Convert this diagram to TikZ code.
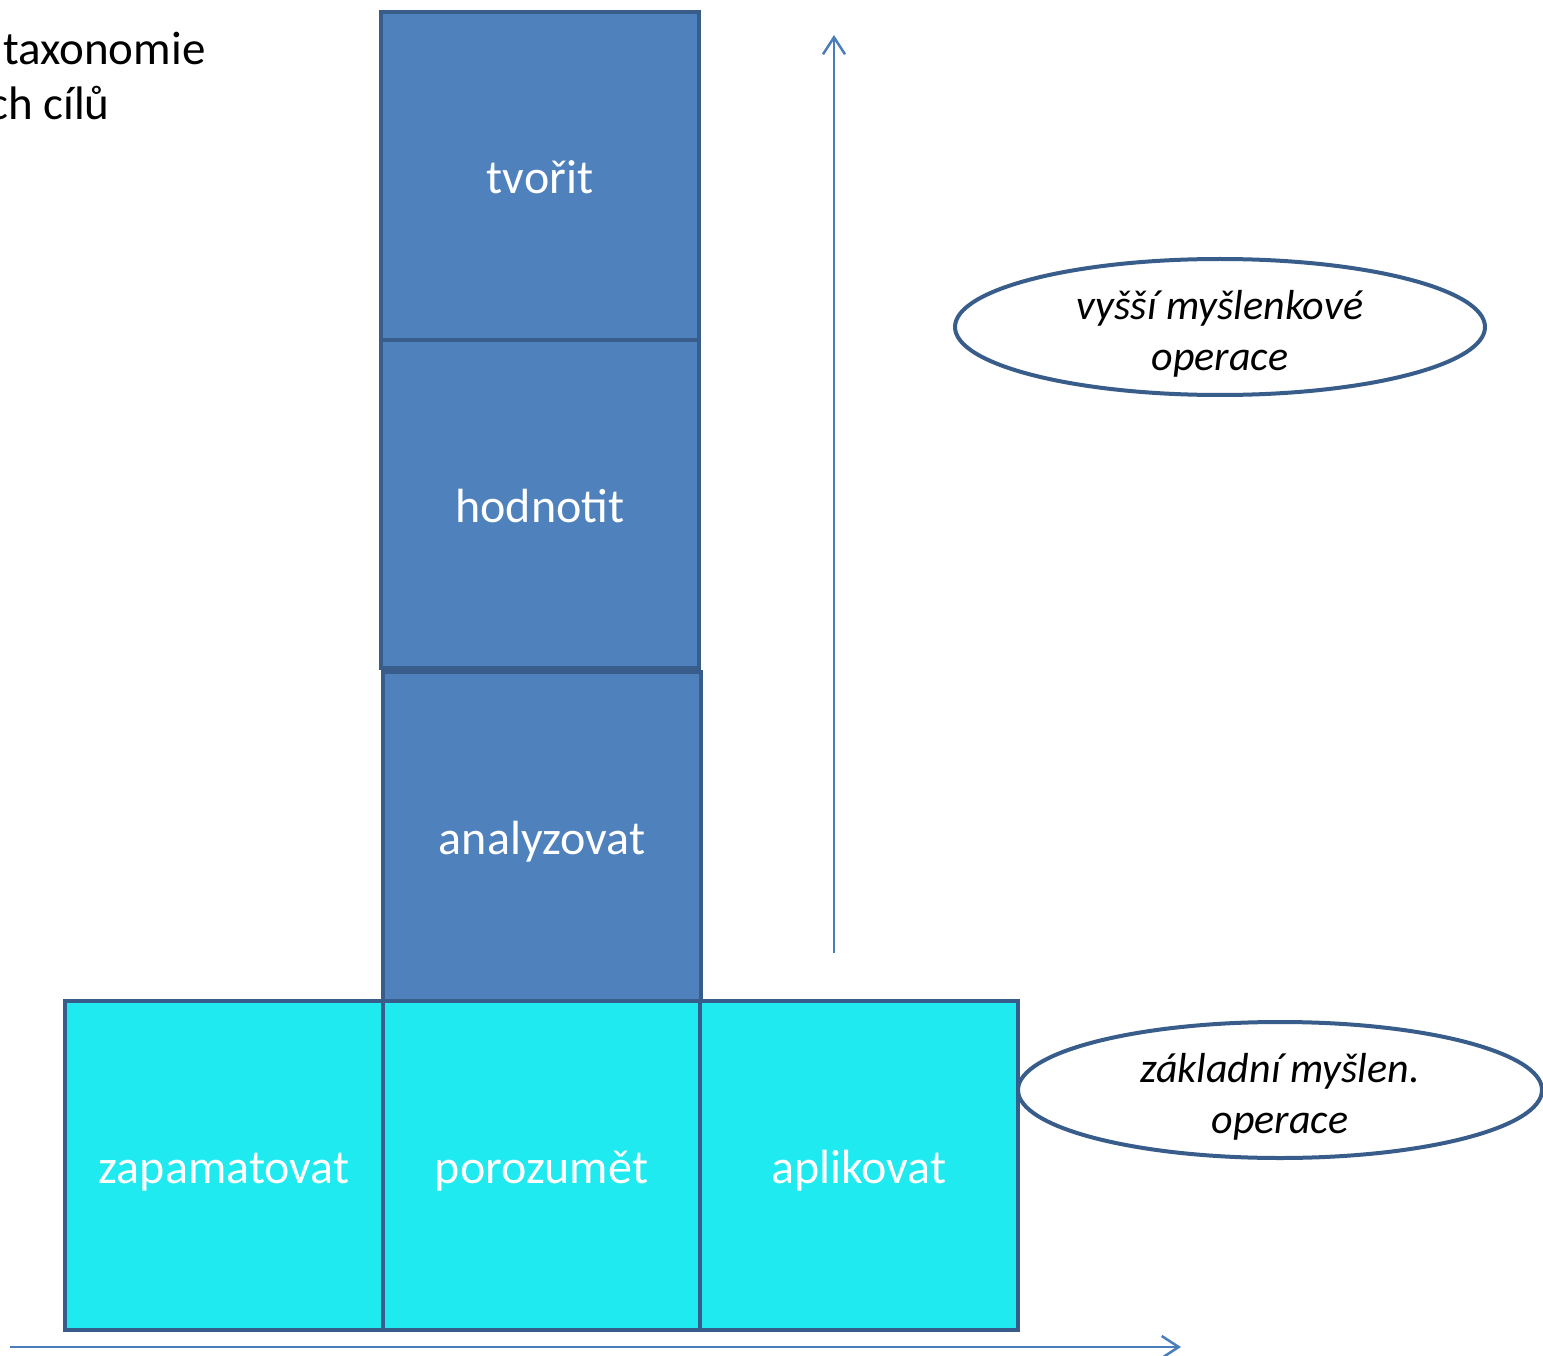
\documentclass[tikz,border=0pt]{standalone}
\usepackage{fontspec}
\setmainfont{Carlito}
\usetikzlibrary{arrows.meta,shapes.geometric}
\definecolor{bord}{HTML}{385D8A}
\definecolor{bluefill}{HTML}{4F81BD}
\definecolor{cyanfill}{HTML}{1FEAEF}
\definecolor{arrcol}{HTML}{4A7EBB}
\newcommand{\ovaltext}[2]{\raisebox{-14pt}[0pt][0pt]{\begin{tabular}{@{}c@{}}#1\\#2\end{tabular}}}
\tikzset{
  box/.style={draw=bord, line width=4pt, minimum width=318pt, minimum height=328pt, inner sep=0pt, anchor=north west, text=white, text height=40pt, text depth=4pt, font=\fontsize{48}{56}\selectfont},
  upper/.style={box, fill=bluefill},
  lower/.style={box, fill=cyanfill},
  oval/.style={ellipse, draw=bord, line width=4pt, fill=white, inner sep=0pt, minimum width=530pt, minimum height=136pt, font=\fontsize{42}{51}\selectfont\itshape},
  arr/.style={draw=arrcol, line width=2.5pt, -{Straight Barb[length=17pt,width=22pt]}},
  title/.style={anchor=base west, inner sep=0pt, font=\fontsize{47}{56}\selectfont}
}
\begin{document}
\begin{tikzpicture}[x=1pt,y=-1pt]
\useasboundingbox[fill=white] (0,0) rectangle (1543,1356);
% title fragment
\node[title] (t1) at (3,65) {taxonomie};
\node[title] (t2) at (-12,120) {ch cílů};
% arrows
\coordinate (vb) at (834,953);
\coordinate (vt) at (834,35);
\draw[arr] (vb) -- (vt);
\coordinate (hl) at (10,1347);
\coordinate (hr) at (1181,1347);
\draw[arr] (hl) -- (hr);
% upper boxes
\node[upper] (tvorit) at (379,10) {tvořit};
\node[upper] (hodnotit) at (379,338) {hodnotit};
\node[upper, minimum height=329pt] (analyzovat) at (381,670) {analyzovat};
% lower boxes
\node[lower, minimum height=329pt] (zapamatovat) at (63,999) {zapamatovat};
\node[lower, minimum width=317pt, minimum height=329pt] (porozumet) at (381,999) {porozumět};
\node[lower, minimum height=329pt] (aplikovat) at (698,999) {aplikovat};
% ellipses
\node[oval] (vyssi) at (1220,327) {\ovaltext{vyšší myšlenkové}{operace}};
\node[oval, minimum width=524pt] (zakladni) at (1280,1090) {\ovaltext{základní myšlen.}{operace}};
\end{tikzpicture}
\end{document}
